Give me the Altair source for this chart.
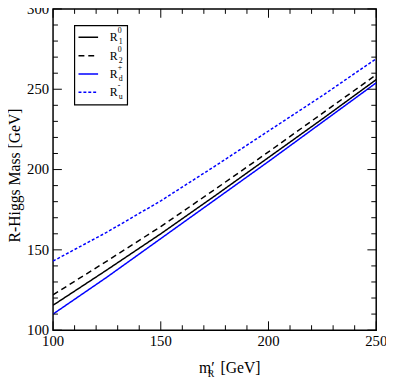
import altair as alt
import pandas as pd

# ---- data ----
mR = [100, 125, 150, 175, 200, 225, 250]
R1 = [115.5, 137.5, 160, 183.5, 207.5, 231.5, 256]
R2 = [122, 143, 164.5, 187.5, 211, 235, 259]
Rd = [110, 133, 157, 181, 205, 229.5, 254]
Ru = [143, 161, 180.5, 202, 224, 246, 269]

series = ["R1", "R2", "Rd", "Ru"]
colors = ["black", "black", "#0000ff", "#0000ff"]
dashes = [[1, 0], [6, 4], [1, 0], [3, 2]]
widths = [1.5, 1.5, 1.0, 1.0]
leg_sup = ["0", "0", "+", "-"]
leg_sub = ["1", "2", "d", "u"]

x_major = [100, 150, 200, 250]
x_ticks = list(range(100, 251, 10))
y_major = [100, 150, 200, 250, 300]
y_ticks = list(range(100, 301, 10))

y_title = ["R-Higgs Mass [GeV]"]
title_parts = ["m\u2032", "R", "[GeV]"]

W, H = 330, 328
FONT = "Liberation Serif, Times New Roman, serif"

rows = []
for s, vals in zip(series, [R1, R2, Rd, Ru]):
    for m, v in zip(mR, vals):
        rows.append({"mR": m, "val": v, "s": s})
df = pd.DataFrame(rows)

xscale = alt.Scale(domain=[100, 250], nice=False, zero=False)
yscale = alt.Scale(domain=[100, 300], nice=False, zero=False)
cscale = alt.Scale(domain=series, range=colors)
dscale = alt.Scale(domain=series, range=dashes)
wscale = alt.Scale(domain=series, range=widths)

main = alt.Chart(df).mark_line(clip=True).encode(
    x=alt.X("mR:Q", scale=xscale, axis=None),
    y=alt.Y("val:Q", scale=yscale, axis=None),
    color=alt.Color("s:N", scale=cscale, legend=None),
    strokeDash=alt.StrokeDash("s:N", scale=dscale, legend=None),
    strokeWidth=alt.StrokeWidth("s:N", scale=wscale, legend=None),
    detail="s:N",
)

# ---- inward ticks on all four edges, drawn as rules at the scale's tick values ----
xt = pd.DataFrame([{"v": v, "edge": e} for v in x_ticks for e in (0, 1)])
yt = pd.DataFrame([{"v": v, "edge": e} for v in y_ticks for e in (0, 1)])

xtick_rules = alt.Chart(xt).transform_calculate(
    ln="datum.v % 50 === 0 ? 9 : 5"
).transform_calculate(
    p0=f"datum.edge === 0 ? {H} : 0",
    p1=f"datum.edge === 0 ? {H} - datum.ln : datum.ln",
).mark_rule(color="black", strokeWidth=1).encode(
    x=alt.X("v:Q", scale=xscale, axis=None),
    y=alt.Y("p0:Q", scale=None, axis=None),
    y2="p1:Q",
)

ytick_rules = alt.Chart(yt).transform_calculate(
    ln="datum.v % 50 === 0 ? 9 : 5"
).transform_calculate(
    p0=f"datum.edge === 0 ? 0 : {W}",
    p1=f"datum.edge === 0 ? datum.ln : {W} - datum.ln",
).mark_rule(color="black", strokeWidth=1).encode(
    y=alt.Y("v:Q", scale=yscale, axis=None),
    x=alt.X("p0:Q", scale=None, axis=None),
    x2="p1:Q",
)

# ---- tick labels and axis titles as text ----
xlab = alt.Chart(pd.DataFrame({"v": x_major})).mark_text(
    font=FONT, fontSize=15, align="center", baseline="top", color="black"
).encode(x=alt.X("v:Q", scale=xscale, axis=None), y=alt.value(H + 4), text="v:Q")

ylab = alt.Chart(pd.DataFrame({"v": y_major})).mark_text(
    font=FONT, fontSize=15, align="right", baseline="middle", color="black"
).encode(y=alt.Y("v:Q", scale=yscale, axis=None), x=alt.value(-4), text="v:Q")

ytitle = alt.Chart(pd.DataFrame({"t": y_title})).mark_text(
    font=FONT, fontSize=16, align="center", baseline="middle", angle=270, color="black"
).encode(x=alt.value(-39), y=alt.value(170), text="t:N")

# ---- manual legend ----
leg = pd.DataFrame({"s": series, "i": list(range(4)), "sup": leg_sup, "sub": leg_sub})
leg_base = alt.Chart(leg).transform_calculate(py="29 + datum.i * 18.7")
ypix = alt.Y("py:Q", scale=None, axis=None)

box = alt.Chart(pd.DataFrame({"k": [0]})).mark_rect(
    fill="white", stroke="black", strokeWidth=1.2
).encode(x=alt.value(22), x2=alt.value(76), y=alt.value(17), y2=alt.value(98))

leg_lines = leg_base.mark_rule().encode(
    x=alt.value(26), x2=alt.value(46), y=ypix,
    color=alt.Color("s:N", scale=cscale, legend=None),
    strokeDash=alt.StrokeDash("s:N", scale=dscale, legend=None),
    strokeWidth=alt.StrokeWidth("s:N", scale=wscale, legend=None),
)
leg_R = leg_base.mark_text(font=FONT, fontSize=12, align="left", baseline="middle",
                           color="black").encode(x=alt.value(58), y=ypix, text=alt.value("R"))
leg_sp = leg_base.mark_text(font=FONT, fontSize=8, align="left", baseline="middle",
                            color="black", dy=-6).encode(x=alt.value(66), y=ypix, text="sup:N")
leg_sb = leg_base.mark_text(font=FONT, fontSize=8, align="left", baseline="middle",
                            color="black", dy=5).encode(x=alt.value(67), y=ypix, text="sub:N")

# ---- manual x-axis title with subscript ----
tdf = pd.DataFrame({"t": title_parts})
def tpart(k, size, xp, yp):
    return alt.Chart(tdf).transform_filter("datum.t == '" + title_parts[k] + "'").mark_text(
        font=FONT, fontSize=size, align="left", baseline="alphabetic", color="black"
    ).encode(x=alt.value(xp), y=alt.value(yp), text="t:N")

t_m = tpart(0, 16, 149, H + 44)
t_R = tpart(1, 10, 158, H + 48)
t_g = tpart(2, 16, 171, H + 44)

chart = alt.layer(
    main, xtick_rules, ytick_rules, xlab, ylab, ytitle,
    box, leg_lines, leg_R, leg_sp, leg_sb, t_m, t_R, t_g
).properties(
    width=W, height=H,
    autosize=alt.AutoSizeParams(type="none"),
    padding={"left": 46, "top": -3, "right": 10, "bottom": 50},
).configure_view(stroke="black", strokeWidth=1.5)

chart.save("out.html", embed_options={"renderer": "svg", "actions": False})
